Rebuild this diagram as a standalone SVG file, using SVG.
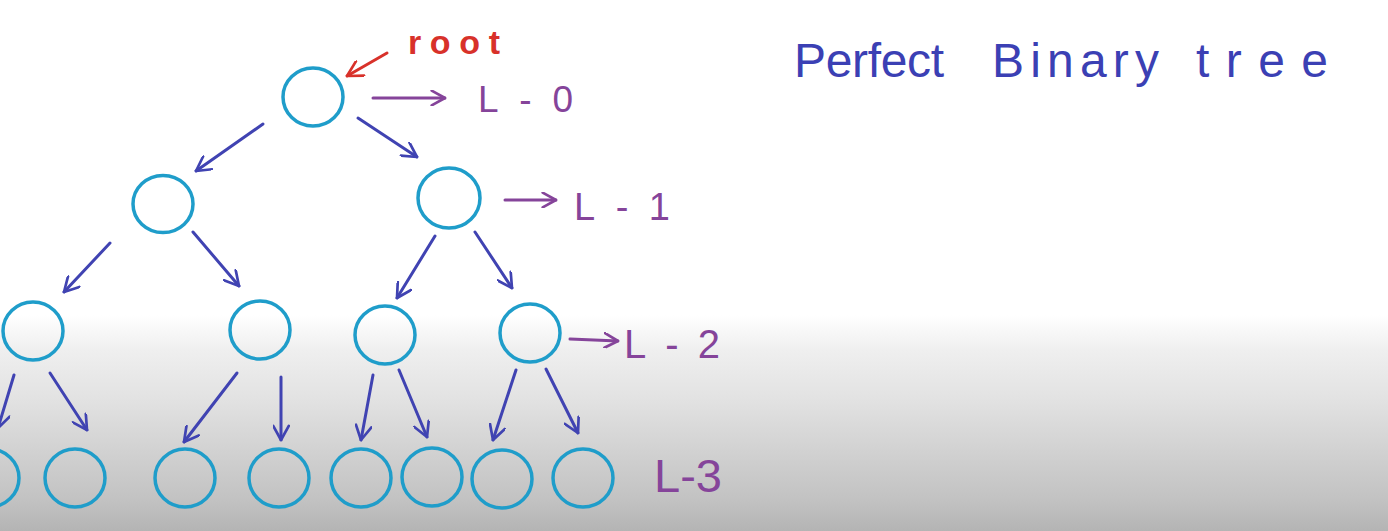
<svg xmlns="http://www.w3.org/2000/svg" width="1388" height="531" viewBox="0 0 1388 531">
<style>
.node{fill:none;stroke:#1f9dca;stroke-width:3.5}
.edge{fill:none;stroke:#4043b2;stroke-width:3;stroke-linecap:round;marker-end:url(#ab)}
.lvl{fill:none;stroke:#85449a;stroke-width:3;stroke-linecap:round;marker-end:url(#ap)}
.lbl{font-family:"Liberation Sans",Arial,sans-serif;fill:#85449a}
.title{font-family:"Liberation Sans",Arial,sans-serif;fill:#3b40b4;font-size:48px}
</style>
<defs>
<linearGradient id="bg" x1="0" y1="0" x2="0" y2="1">
<stop offset="0" stop-color="#ffffff"/>
<stop offset="0.593" stop-color="#ffffff"/>
<stop offset="0.659" stop-color="#efefef"/>
<stop offset="0.753" stop-color="#e2e2e2"/>
<stop offset="0.847" stop-color="#d2d2d2"/>
<stop offset="0.942" stop-color="#c2c2c2"/>
<stop offset="1" stop-color="#b4b4b4"/>
</linearGradient>
<marker id="ab" viewBox="0 0 12 12" refX="11" refY="6" markerWidth="17" markerHeight="17" markerUnits="userSpaceOnUse" orient="auto"><path d="M1,0.5 L11,6 L1,11.5" fill="none" stroke="#4043b2" stroke-width="1.9" stroke-linecap="round" stroke-linejoin="round"/></marker>
<marker id="ap" viewBox="0 0 12 12" refX="11" refY="6" markerWidth="16" markerHeight="16" markerUnits="userSpaceOnUse" orient="auto"><path d="M1,0.5 L11,6 L1,11.5" fill="none" stroke="#85449a" stroke-width="2" stroke-linecap="round" stroke-linejoin="round"/></marker>
<marker id="ar" viewBox="0 0 12 12" refX="11" refY="6" markerWidth="18" markerHeight="18" markerUnits="userSpaceOnUse" orient="auto"><path d="M1,0.5 L11,6 L1,11.5" fill="none" stroke="#d8312a" stroke-width="1.8" stroke-linecap="round" stroke-linejoin="round"/></marker>
</defs>
<rect x="0" y="0" width="1388" height="531" fill="url(#bg)"/>

<g id="n-root"><ellipse class="node" cx="313" cy="97" rx="30" ry="29"/></g>
<g id="n-1a"><ellipse class="node" cx="163" cy="204" rx="30" ry="28.5"/></g>
<g id="n-1b"><ellipse class="node" cx="449" cy="198" rx="31" ry="30"/></g>
<g id="n-2a"><ellipse class="node" cx="33" cy="331" rx="30" ry="29"/></g>
<g id="n-2b"><ellipse class="node" cx="260" cy="330" rx="30" ry="29"/></g>
<g id="n-2c"><ellipse class="node" cx="385" cy="335" rx="30" ry="29"/></g>
<g id="n-2d"><ellipse class="node" cx="530" cy="333" rx="30" ry="29"/></g>
<g id="n-3a"><ellipse class="node" cx="-11" cy="478" rx="30" ry="29"/></g>
<g id="n-3b"><ellipse class="node" cx="75" cy="478" rx="30" ry="29"/></g>
<g id="n-3c"><ellipse class="node" cx="185" cy="478" rx="30" ry="29"/></g>
<g id="n-3d"><ellipse class="node" cx="279" cy="478" rx="30" ry="29"/></g>
<g id="n-3e"><ellipse class="node" cx="361" cy="478" rx="30" ry="29"/></g>
<g id="n-3f"><ellipse class="node" cx="432" cy="477" rx="30" ry="29"/></g>
<g id="n-3g"><ellipse class="node" cx="502" cy="479" rx="30" ry="29"/></g>
<g id="n-3h"><ellipse class="node" cx="583" cy="478" rx="30" ry="29"/></g>

<g id="connectors">
<path class="edge" d="M263,124 L196,171"/>
<path class="edge" d="M358,118 L417,157"/>
<path class="edge" d="M110,243 L64,292"/>
<path class="edge" d="M193,232 L239,286"/>
<path class="edge" d="M435,236 L397,298"/>
<path class="edge" d="M475,232 L512,288"/>
<path class="edge" d="M14,375 L-2,428"/>
<path class="edge" d="M50,373 L87,430"/>
<path class="edge" d="M237,373 L184,442"/>
<path class="edge" d="M281,377 L281,440"/>
<path class="edge" d="M373,375 L361,440"/>
<path class="edge" d="M399,370 L427,437"/>
<path class="edge" d="M516,370 L493,440"/>
<path class="edge" d="M546,369 L578,433"/>
<path class="lvl" d="M373,98 L445,98"/>
<path class="lvl" d="M505,200 L556,200"/>
<path class="lvl" d="M570,339 L618,341"/>
<path d="M387,53 L347,76" fill="none" stroke="#d8312a" stroke-width="3" stroke-linecap="round" marker-end="url(#ar)"/>
</g>

<g id="label-root"><text x="408" y="54" font-family="Liberation Sans, Arial, sans-serif" font-size="34" font-weight="bold" fill="#d8312a" textLength="92" lengthAdjust="spacing">root</text></g>
<g id="label-l0"><text class="lbl" x="478" y="112" font-size="37" textLength="95" lengthAdjust="spacing">L-0</text></g>
<g id="label-l1"><text class="lbl" x="574" y="220" font-size="38" textLength="96" lengthAdjust="spacing">L-1</text></g>
<g id="label-l2"><text class="lbl" x="624" y="358" font-size="40" textLength="96" lengthAdjust="spacing">L-2</text></g>
<g id="label-l3"><text class="lbl" x="654" y="492" font-size="46" textLength="68" lengthAdjust="spacingAndGlyphs">L-3</text></g>
<g id="title">
<text class="title" x="794" y="77" textLength="150" lengthAdjust="spacing">Perfect</text>
<text class="title" x="992" y="77" textLength="167" lengthAdjust="spacing">Binary</text>
<text class="title" x="1196" y="77" textLength="132" lengthAdjust="spacing">tree</text>
</g>
</svg>
